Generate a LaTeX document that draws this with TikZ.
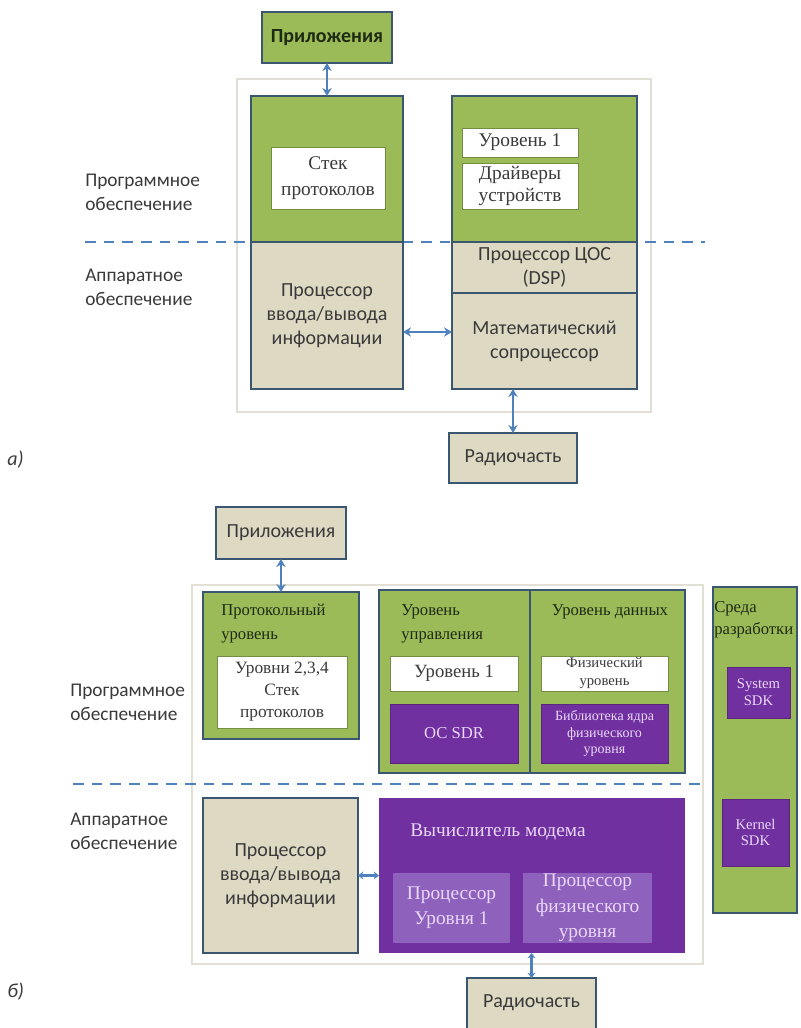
\documentclass[tikz,border=0pt]{standalone}
\usepackage{fontspec}
\setmainfont{Liberation Serif}
\setsansfont{Carlito}
\usetikzlibrary{arrows.meta}

\definecolor{boxgreen}{HTML}{9BBB59}
\definecolor{boxtan}{HTML}{DDD9C3}
\definecolor{boxedge}{HTML}{3B5670}
\definecolor{modem}{HTML}{7030A0}
\definecolor{modemin}{HTML}{8E62BC}
\definecolor{lav}{HTML}{EAD8FA}
\definecolor{link}{HTML}{4F81BD}
\definecolor{framecol}{HTML}{E2DFD4}
\definecolor{darktext}{HTML}{1F2A12}
\definecolor{greytext}{HTML}{3A3A3A}

% box given by its corners in pixel units
\newcommand\cellbox[7]{%
  \node[#6,minimum width={(#4-#2)*0.75pt},minimum height={(#5-#3)*0.75pt}]
    (#1) at ({(#2+#4)/2},{(#3+#5)/2}) {#7};}

\tikzset{
  base/.style={rectangle,inner sep=0pt,outer sep=0pt,align=center},
  greenbox/.style={base,fill=boxgreen,draw=boxedge,line width=1.6pt},
  tanbox/.style={base,fill=boxtan,draw=boxedge,line width=1.6pt,
    font=\sffamily\fontsize{15}{18}\selectfont,text=greytext},
  whitebox/.style={base,fill=white,draw=boxgreen!75!black,line width=0.6pt,
    text=greytext},
  purplebox/.style={base,fill=modem,draw=modem!80!black,line width=0.6pt,text=lav},
  innerpurple/.style={base,fill=modemin,text=lav,
    font=\rmfamily\fontsize{14.5}{19}\selectfont},
  outerframe/.style={draw=framecol,line width=1.6pt},
  linkarrow/.style={draw=link,line width=1.6pt,
    {Stealth[length=6pt,width=7pt]}-{Stealth[length=6pt,width=7pt]}},
  shortlink/.style={draw=link,line width=1.6pt,
    {Stealth[length=4pt,width=6pt]}-{Stealth[length=4pt,width=6pt]}},
  divider/.style={draw=link,line width=1.5pt,dash pattern=on 8pt off 6pt},
  sidelabel/.style={anchor=west,align=left,inner sep=0pt,
    font=\sffamily\fontsize{14.5}{18}\selectfont,text=greytext},
  partlabel/.style={anchor=west,inner sep=0pt,
    font=\sffamily\itshape\fontsize{15}{18}\selectfont,text=greytext},
  boxtitle/.style={inner sep=0pt,align=left,text=darktext,
    font=\rmfamily\fontsize{12.5}{18}\selectfont},
}

\begin{document}
\begin{tikzpicture}[x=0.75pt,y=-0.75pt]
\useasboundingbox[fill=white] (0,0) rectangle (800,1028);

% ===================== part a =====================
\draw[outerframe] (237,79) rectangle (651,412);
\draw[divider] (85,242) -- (705,242);

\cellbox{appA}{262}{12}{392}{63}{greenbox,font=\sffamily\bfseries\fontsize{15}{18}\selectfont,text=darktext}{Приложения}

\cellbox{swL}{251}{96}{403}{242}{greenbox}{}
\cellbox{ioA}{251}{242}{403}{389}{tanbox}{Процессор\\ввода/вывода\\информации}
\cellbox{stackA}{271}{147}{385}{209}{whitebox,font=\rmfamily\fontsize{14.5}{19}\selectfont}{Стек\\протоколов}

\cellbox{swR}{452}{96}{637}{242}{greenbox}{}
\cellbox{dspA}{452}{242}{637}{293}{tanbox}{Процессор ЦОС\\(DSP)}
\cellbox{mathA}{452}{293}{637}{389}{tanbox}{Математический\\сопроцессор}
\cellbox{lvlA}{462}{128}{578}{157}{whitebox,font=\rmfamily\fontsize{14.5}{18}\selectfont}{Уровень 1}
\cellbox{drvA}{462}{163}{578}{209}{whitebox,font=\rmfamily\fontsize{14.5}{17}\selectfont}{Драйверы\\устройств}

\cellbox{radioA}{449}{433}{577}{483}{tanbox}{Радиочасть}

\node[sidelabel] (swlabA) at (85,192) {Программное\\обеспечение};
\node[sidelabel] (hwlabA) at (85,287) {Аппаратное\\обеспечение};
\node[partlabel] (partA) at (7,460) {а)};

\draw[linkarrow] (appA.south) -- (swL.north);
\draw[linkarrow] (ioA.east |- 0,332) -- (mathA.west |- 0,332);
\draw[linkarrow] (radioA.north |- mathA.south) -- (radioA.north);

% ===================== part b =====================
\draw[outerframe] (192,585) rectangle (703,964);
\draw[divider] (73,784) -- (705,784);

\cellbox{appB}{216}{507}{346}{559}{tanbox}{Приложения}

\cellbox{protoB}{203}{592}{359}{739}{greenbox}{}
\node[boxtitle,anchor=north west] (protoT) at (221,604) {Протокольный\\уровень};
\cellbox{stackB}{217}{656}{347}{728}{whitebox,font=\rmfamily\fontsize{13}{16.5}\selectfont}{Уровни 2,3,4\\Стек\\протоколов}

\cellbox{ctrlB}{379}{590}{530}{773}{greenbox}{}
\cellbox{dataB}{530}{590}{685}{773}{greenbox}{}
\node[boxtitle,anchor=north west] (ctrlT) at (401,604) {Уровень\\управления};
\node[boxtitle,anchor=north] (dataT) at (610,604) {Уровень данных};
\cellbox{lvlB}{390}{656}{518}{691}{whitebox,font=\rmfamily\fontsize{14}{17}\selectfont}{Уровень 1}
\cellbox{osB}{390}{704}{518}{763}{purplebox,font=\rmfamily\fontsize{12.5}{15}\selectfont}{ОС SDR}
\cellbox{phyB}{541}{656}{668}{691}{whitebox,font=\rmfamily\fontsize{11}{13.5}\selectfont}{Физический\\уровень}
\cellbox{libB}{541}{704}{668}{763}{purplebox,font=\rmfamily\fontsize{10.5}{12.5}\selectfont}{Библиотека ядра\\физического\\уровня}

\cellbox{sdkB}{713}{587}{797}{913}{greenbox}{}
\node[boxtitle,anchor=north west,font=\rmfamily\fontsize{12.5}{16.5}\selectfont] (sdkT) at (714,601) {Среда\\разработки};
\cellbox{sysB}{727}{667}{790}{718}{purplebox,font=\rmfamily\fontsize{11}{12.5}\selectfont}{System\\SDK}
\cellbox{kerB}{722}{799}{789}{866}{purplebox,font=\rmfamily\fontsize{11}{12.5}\selectfont}{Kernel\\SDK}

\cellbox{ioB}{203}{798}{358}{953}{tanbox}{Процессор\\ввода/вывода\\информации}
\cellbox{modemB}{379}{798}{685}{953}{purplebox,draw=none}{}
\node[anchor=west,inner sep=0pt,text=lav,font=\rmfamily\fontsize{14.5}{18}\selectfont] (modemT) at (410,832) {Вычислитель модема};
\cellbox{l1procB}{393}{873}{510}{943}{innerpurple}{Процессор\\Уровня 1}
\cellbox{phyprocB}{523}{873}{652}{943}{innerpurple}{Процессор\\физического\\уровня}

\cellbox{radioB}{467}{978}{596}{1034}{tanbox}{\raisebox{8pt}{Радиочасть}}

\node[sidelabel] (swlabB) at (70,702) {Программное\\обеспечение};
\node[sidelabel] (hwlabB) at (70,831) {Аппаратное\\обеспечение};
\node[partlabel] (partB) at (7,992) {б)};

\draw[linkarrow] (appB.south) -- (protoB.north);
\draw[shortlink] (ioB.east) -- (modemB.west);
\draw[shortlink] (radioB.north |- modemB.south) -- (radioB.north);

\end{tikzpicture}
\end{document}
